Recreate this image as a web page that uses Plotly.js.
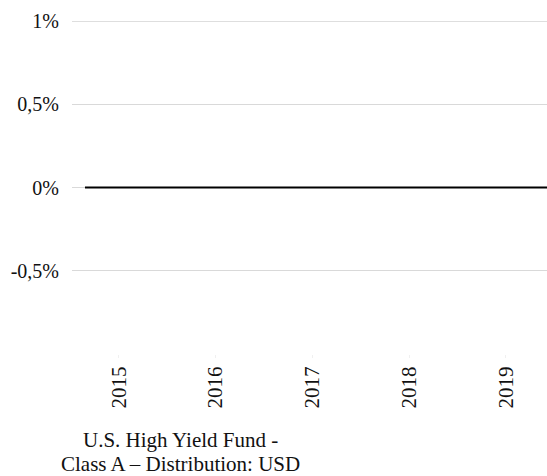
<!DOCTYPE html>
<html>
<head>
<meta charset="utf-8">
<script src="https://cdn.plot.ly/plotly-3.0.1.min.js"></script>
<style>html,body{margin:0;padding:0;background:#fff;}#chart{width:547px;height:476px;}</style>
</head>
<body>
<div id="chart"></div>
<script>
var seriesNameLines = ["U.S. High Yield Fund -", "Class A – Distribution: USD"];
var dates = ["2014-08-26","2015-01-01","2016-01-01","2017-01-01","2018-01-01","2019-01-01","2019-06-05"];
var values = [0, 0, 0, 0, 0, 0, 0];
var yearTickVals = ["2015-01-01","2016-01-01","2017-01-01","2018-01-01","2019-01-01"];
var yearTickText = ["2015","2016","2017","2018","2019"];
var yTickVals = [-0.5, 0, 0.5, 1];
var yTickText = ["-0,5%", "0%", "0,5%", "1%"];

var font = "Liberation Serif";
var txtColor = "#111111";
var trace = {
  x: dates, y: values, type: "scatter", mode: "lines", name: seriesNameLines.join(" "),
  line: {color: "#000000", width: 2}, showlegend: false, hoverinfo: "skip"
};
var plotTop = 21, plotBottom = 354, plotH = plotBottom - plotTop;
function py(pixel) { return (plotBottom - pixel) / plotH; }
var legendCenterX = (180 - 72) / 475;
var layout = {
  width: 547, height: 476,
  margin: {l: 72, r: 0, t: plotTop, b: 476 - plotBottom},
  paper_bgcolor: "#ffffff", plot_bgcolor: "#ffffff",
  font: {family: font, size: 20, color: txtColor},
  showlegend: false,
  xaxis: {
    type: "date", range: ["2014-07-08", "2019-06-05"],
    tickvals: yearTickVals, ticktext: yearTickText, tickangle: -90,
    showgrid: false, zeroline: false, showline: false,
    ticks: "outside", ticklen: 3, tickcolor: "#f0f0f0",
    tickfont: {family: font, size: 21, color: txtColor}
  },
  yaxis: {
    range: [-1, 1], tickvals: yTickVals, ticktext: yTickText,
    showgrid: true, gridcolor: "#d9d9d9", gridwidth: 1,
    zeroline: true, zerolinecolor: "#d9d9d9", zerolinewidth: 1,
    showline: false, ticks: "outside", ticklen: 8, tickcolor: "rgba(0,0,0,0)",
    tickfont: {family: font, size: 20, color: txtColor}
  },
  shapes: [{type: "line", xref: "paper", x0: 0, x1: 1, yref: "y", y0: 1, y1: 1,
            line: {color: "#bdbdbd", width: 1}, layer: "below"}],
  annotations: [
    {text: seriesNameLines[0], xref: "paper", yref: "paper", x: legendCenterX, y: py(440),
     xanchor: "center", yanchor: "middle", showarrow: false,
     font: {family: font, size: 21, color: txtColor}},
    {text: seriesNameLines[1], xref: "paper", yref: "paper", x: legendCenterX, y: py(463.5),
     xanchor: "center", yanchor: "middle", showarrow: false,
     font: {family: font, size: 21, color: txtColor}}
  ]
};
Plotly.newPlot("chart", [trace], layout, {displayModeBar: false, staticPlot: true});
</script>
</body>
</html>
